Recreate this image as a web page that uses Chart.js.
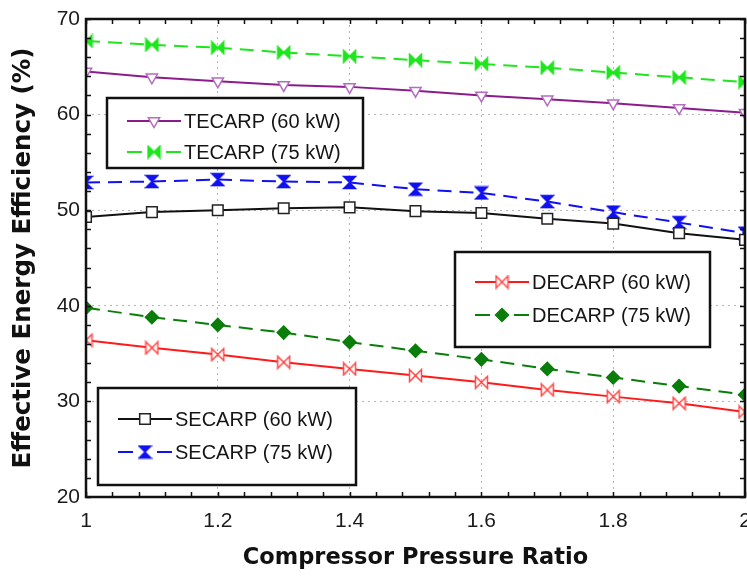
<!DOCTYPE html>
<html>
<head>
<meta charset="utf-8">
<script src="https://cdn.jsdelivr.net/npm/chart.js@4.4.1/dist/chart.umd.min.js"></script>
<style>
  html, body { margin: 0; padding: 0; background: #fff; }
  #wrap { width: 747px; height: 577px; }
</style>
</head>
<body>
<div id="wrap"><canvas id="effChart" width="747" height="577"></canvas></div>
<script>
// compressor pressure ratio (x) and effective energy efficiency in % (y)
const ratios   = [1.0, 1.1, 1.2, 1.3, 1.4, 1.5, 1.6, 1.7, 1.8, 1.9, 2.0];
const tecarp60 = [64.5, 63.9, 63.5, 63.1, 62.9, 62.5, 62.0, 61.6, 61.2, 60.7, 60.2];
const tecarp75 = [67.7, 67.3, 67.0, 66.5, 66.1, 65.7, 65.3, 64.9, 64.4, 63.9, 63.4];
const secarp60 = [49.3, 49.8, 50.0, 50.2, 50.3, 49.9, 49.7, 49.1, 48.6, 47.6, 46.9];
const secarp75 = [52.9, 53.0, 53.2, 53.0, 52.9, 52.2, 51.8, 50.9, 49.8, 48.7, 47.6];
const decarp60 = [36.4, 35.6, 34.9, 34.1, 33.4, 32.7, 32.0, 31.2, 30.5, 29.8, 28.9];
const decarp75 = [39.8, 38.8, 38.0, 37.2, 36.2, 35.3, 34.4, 33.4, 32.5, 31.6, 30.7];

const xTicks = [1, 1.2, 1.4, 1.6, 1.8, 2];
const yTicks = [20, 30, 40, 50, 60, 70];

const TICK_FONT = { family: '"Liberation Sans", Arial, sans-serif', size: 21 };
const TITLE_FONT = '"DejaVu Sans", sans-serif';

// small canvas markers: horizontal bowtie or vertical hourglass
function makeMarker(stroke, fill, vertical, size) {
    const pad = 1.5;
    const c = document.createElement('canvas');
    c.width = c.height = size + pad * 2;
    const g = c.getContext('2d');
    g.translate(pad, pad);
    const m = size / 2;
    g.beginPath();
    if (vertical) {
        g.moveTo(0, 0); g.lineTo(size, 0); g.lineTo(m, m); g.closePath();
        g.moveTo(0, size); g.lineTo(size, size); g.lineTo(m, m); g.closePath();
    } else {
        g.moveTo(0, 0); g.lineTo(m, m); g.lineTo(0, size); g.closePath();
        g.moveTo(size, 0); g.lineTo(m, m); g.lineTo(size, size); g.closePath();
    }
    g.fillStyle = fill;
    g.fill();
    g.strokeStyle = stroke;
    g.lineWidth = 1.5;
    g.stroke();
    return c;
}

function series(label, values, color, dashed, point) {
    return Object.assign({
        label: label,
        data: ratios.map((r, i) => ({ x: r, y: values[i] })),
        borderColor: color,
        borderWidth: 2,
        borderDash: dashed ? [14, 8] : [],
        tension: 0,
        pointRadius: 6,
        pointBorderWidth: 1.5,
        pointBackgroundColor: '#fff',
        pointBorderColor: color,
    }, point);
}

const datasets = [
    series('TECARP (60 kW)', tecarp60, '#8c1c8c', false,
        { pointStyle: 'triangle', pointRotation: 180, pointRadius: 6.5, pointBorderColor: '#b46cc0' }),
    series('TECARP (75 kW)', tecarp75, '#1ee61e', true,
        { pointStyle: makeMarker('#1ee61e', '#1ee61e', false, 12) }),
    series('DECARP (60 kW)', decarp60, '#ff1a1a', false,
        { pointStyle: makeMarker('#ff4848', '#fff', false, 12) }),
    series('DECARP (75 kW)', decarp75, '#0a7d0a', true,
        { pointStyle: 'rectRot', pointRadius: 6.5, pointBackgroundColor: '#0a7d0a' }),
    series('SECARP (60 kW)', secarp60, '#111', false,
        { pointStyle: 'rect', pointRadius: 7.5, pointBorderColor: '#222' }),
    series('SECARP (75 kW)', secarp75, '#1010f0', true,
        { pointStyle: makeMarker('#1010f0', '#1010f0', true, 12) }),
];

// the three framed legend boxes inside the plot
const legendBoxes = [
    { sets: [0, 1], left: 107, top: 98, width: 256, height: 70, rows: [121, 152] },
    { sets: [2, 3], left: 455, top: 252, width: 255, height: 95, rows: [282, 315] },
    { sets: [4, 5], left: 98, top: 388, width: 258, height: 97, rows: [419, 452] },
];

const boxLegend = {
    id: 'boxLegend',
    afterDatasetsDraw(chart) {
        const ctx = chart.ctx;
        ctx.save();
        legendBoxes.forEach(box => {
            ctx.fillStyle = '#fff';
            ctx.fillRect(box.left, box.top, box.width, box.height);
            ctx.strokeStyle = '#111';
            ctx.lineWidth = 2.5;
            ctx.setLineDash([]);
            ctx.strokeRect(box.left, box.top, box.width, box.height);

            box.sets.forEach((idx, row) => {
                const ds = chart.data.datasets[idx];
                const y = box.rows[row];
                const x0 = box.left + 20;
                const x1 = x0 + 54;
                const cx = (x0 + x1) / 2;
                ctx.strokeStyle = ds.borderColor;
                ctx.lineWidth = ds.borderWidth;
                ctx.beginPath();
                if (ds.borderDash.length) {
                    ctx.moveTo(x0, y); ctx.lineTo(x0 + 15, y);
                    ctx.moveTo(x1 - 15, y); ctx.lineTo(x1, y);
                } else {
                    ctx.moveTo(x0, y); ctx.lineTo(x1, y);
                }
                ctx.stroke();

                ctx.fillStyle = ds.pointBackgroundColor;
                ctx.strokeStyle = ds.pointBorderColor;
                ctx.lineWidth = ds.pointBorderWidth;
                Chart.helpers.drawPoint(ctx, {
                    pointStyle: ds.pointStyle,
                    rotation: ds.pointRotation || 0,
                    radius: ds.pointRadius,
                    borderWidth: ds.pointBorderWidth,
                }, cx, y);

                ctx.fillStyle = '#151515';
                ctx.font = '20px "Liberation Sans", Arial, sans-serif';
                ctx.textBaseline = 'middle';
                ctx.textAlign = 'left';
                ctx.fillText(ds.label, x1 + 3, y + 1);
            });
        });
        ctx.restore();
    }
};

// black frame with inward ticks on every side
const plotFrame = {
    id: 'plotFrame',
    afterDatasetsDraw(chart) {
        const { ctx, chartArea: a, scales: { x, y } } = chart;
        ctx.save();
        ctx.strokeStyle = '#111';
        ctx.lineWidth = 1.5;
        ctx.beginPath();
        for (let i = 0; i <= 25; i++) {
            const px = Math.round(x.getPixelForValue(1 + i * 0.04)) + 0.5;
            ctx.moveTo(px, a.bottom); ctx.lineTo(px, a.bottom - 5);
            ctx.moveTo(px, a.top); ctx.lineTo(px, a.top + 5);
        }
        for (let i = 0; i <= 25; i++) {
            const py = Math.round(y.getPixelForValue(20 + i * 2)) + 0.5;
            ctx.moveTo(a.left, py); ctx.lineTo(a.left + 5, py);
            ctx.moveTo(a.right, py); ctx.lineTo(a.right - 5, py);
        }
        ctx.stroke();
        ctx.lineWidth = 2.5;
        ctx.strokeRect(a.left, a.top, a.right - a.left, a.bottom - a.top);
        ctx.restore();
    }
};

function innerGrid(min, max) {
    return c => (c.tick && (c.tick.value === min || c.tick.value === max)) ? 'rgba(0,0,0,0)' : '#b4b4b4';
}

new Chart(document.getElementById('effChart'), {
    type: 'line',
    data: { datasets: datasets },
    options: {
        responsive: false,
        devicePixelRatio: 1,
        animation: false,
        layout: { autoPadding: false, padding: { top: 19, right: 2, left: 0, bottom: 0 } },
        plugins: {
            legend: { display: false },
            tooltip: { enabled: false }
        },
        scales: {
            x: {
                type: 'linear',
                min: 1,
                max: 2,
                afterBuildTicks: s => { s.ticks = xTicks.map(v => ({ value: v })); },
                afterFit: s => { s.height = 80; s.paddingLeft = 0; s.paddingRight = 0; },
                ticks: {
                    font: TICK_FONT,
                    color: '#1a1a1a',
                    padding: 12,
                    maxRotation: 0,
                    autoSkip: false,
                    callback: v => String(v)
                },
                grid: { color: innerGrid(1, 2), lineWidth: 1, drawTicks: false },
                border: { display: false, dash: [2, 4] },
                title: {
                    display: true,
                    text: 'Compressor Pressure Ratio',
                    color: '#111',
                    font: { family: TITLE_FONT, weight: 'bold', size: 22.5 },
                    padding: { top: 0, bottom: 5 }
                }
            },
            y: {
                min: 20,
                max: 70,
                afterBuildTicks: s => { s.ticks = yTicks.map(v => ({ value: v })); },
                afterFit: s => { s.width = 86; s.paddingTop = 0; s.paddingBottom = 0; },
                ticks: {
                    font: TICK_FONT,
                    color: '#1a1a1a',
                    padding: 6,
                    callback: v => String(v)
                },
                grid: { color: innerGrid(20, 70), lineWidth: 1, drawTicks: false },
                border: { display: false, dash: [2, 4] },
                title: {
                    display: true,
                    text: 'Effective Energy Efficiency (%)',
                    color: '#111',
                    font: { family: TITLE_FONT, weight: 'bold', size: 24.5 },
                    padding: { top: 9, bottom: 0 }
                }
            }
        }
    },
    plugins: [plotFrame, boxLegend]
});
</script>
</body>
</html>
